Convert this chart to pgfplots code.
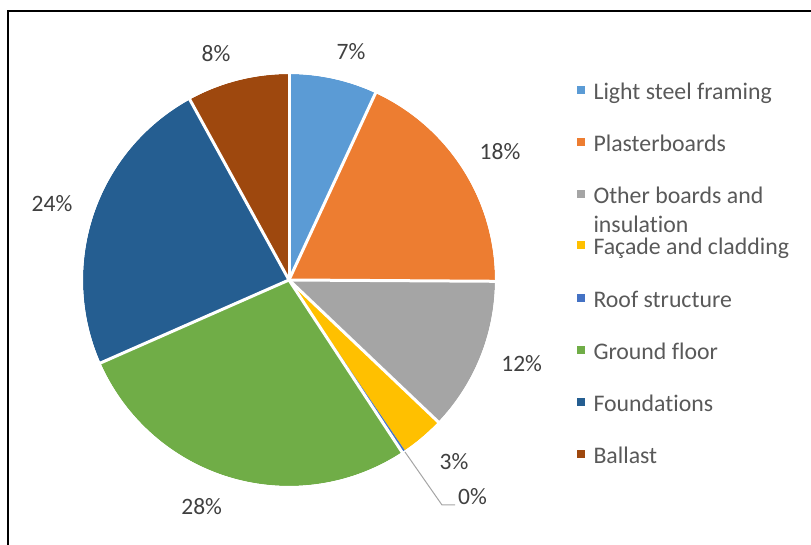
\documentclass[border=0pt]{standalone}
\usepackage{pgfplots}
\pgfplotsset{compat=1.18}
\usepackage{fontspec}
\setmainfont{Carlito}[Ligatures=NoCommon]
\definecolor{cLSF}{HTML}{5B9BD5}
\definecolor{cPB}{HTML}{ED7D31}
\definecolor{cOB}{HTML}{A5A5A5}
\definecolor{cFC}{HTML}{FFC000}
\definecolor{cRS}{HTML}{4472C4}
\definecolor{cGF}{HTML}{70AD47}
\definecolor{cFO}{HTML}{255E91}
\definecolor{cBA}{HTML}{9E480E}
\definecolor{lbl}{HTML}{404040}
\definecolor{leg}{HTML}{595959}
\begin{document}
\begin{tikzpicture}
\useasboundingbox (0,0) rectangle (811pt,545pt);
% shares (%), clockwise from 12 o'clock
\def\vLSF{6.9}\def\vPB{18.2}\def\vOB{12.0}\def\vFC{3.4}
\def\vRS{0.25}\def\vGF{27.65}\def\vFO{23.6}\def\vBA{8.0}
\pgfmathsetmacro\aA{90}
\pgfmathsetmacro\aB{\aA-3.6*\vLSF}
\pgfmathsetmacro\aC{\aB-3.6*\vPB}
\pgfmathsetmacro\aD{\aC-3.6*\vOB}
\pgfmathsetmacro\aE{\aD-3.6*\vFC}
\pgfmathsetmacro\aF{\aE-3.6*\vRS}
\pgfmathsetmacro\aG{\aF-3.6*\vGF}
\pgfmathsetmacro\aH{\aG-3.6*\vFO}
\pgfmathsetmacro\aI{\aH-3.6*\vBA}
\def\R{206pt}
\begin{axis}[at={(0,0)}, anchor=south west, x=1pt, y=1pt, xmin=0, xmax=811, ymin=0, ymax=545,
  hide axis, clip=false]
\def\slice#1#2#3{\fill[#3] (axis cs:289,265) -- ++(#1:\R) arc[start angle=#1, end angle=#2, radius=\R] -- cycle;}
\slice{\aA}{\aB}{cLSF}
\slice{\aB}{\aC}{cPB}
\slice{\aC}{\aD}{cOB}
\slice{\aD}{\aE}{cFC}
\slice{\aE}{\aF}{cRS}
\slice{\aF}{\aG}{cGF}
\slice{\aG}{\aH}{cFO}
\slice{\aH}{\aI}{cBA}
\def\sep#1{\draw[white, line width=3pt] (axis cs:289,265) -- ++(#1:\R+2pt);}
\sep{\aA}\sep{\aB}\sep{\aC}\sep{\aD}\sep{\aF}\sep{\aG}\sep{\aH}
\draw[white, line width=2pt] (axis cs:289,265) circle[radius=\R+1pt];
% leader line for 0%
\draw[color=cOB, line width=1pt] (axis cs:405,93) -- (axis cs:442,40) -- (axis cs:455,40);
% data labels
\begin{scope}[every node/.style={anchor=base, text=lbl, font=\fontsize{23.5}{28}\selectfont, inner sep=0pt}]
\node at (axis cs:351,485) {7\%};
\node at (axis cs:500,385) {18\%};
\node at (axis cs:521.7,173.3) {12\%};
\node at (axis cs:454,75) {3\%};
\node at (axis cs:472.5,40) {0\%};
\node at (axis cs:201.7,30) {28\%};
\node at (axis cs:52,333.3) {24\%};
\node at (axis cs:216,483.3) {8\%};
\end{scope}
% legend
\begin{scope}[every node/.style={anchor=base west, text=leg, font=\fontsize{23.8}{28}\selectfont, inner sep=0pt}]
\def\legitem#1#2#3{\fill[#2] (axis cs:576.5,{545-#1+5.5}) rectangle (axis cs:584.5,{545-#1+13.5});
  \node at (axis cs:593.3,{545-#1}) {#3};}
\legitem{100}{cLSF}{Light steel framing}
\legitem{151.7}{cPB}{Plasterboards}
\legitem{203.3}{cOB}{Other boards and}
\node at (axis cs:593.3,{545-232.7}) {insulation};
\legitem{255}{cFC}{Façade and cladding}
\legitem{307.3}{cRS}{Roof structure}
\legitem{359.3}{cGF}{Ground floor}
\legitem{411.7}{cFO}{Foundations}
\legitem{463.3}{cBA}{Ballast}
\end{scope}
% chart frame
\draw[black, line width=2pt] (axis cs:8.3,0) -- (axis cs:8.3,534) -- (axis cs:812,534);
\end{axis}
\end{tikzpicture}
\end{document}
